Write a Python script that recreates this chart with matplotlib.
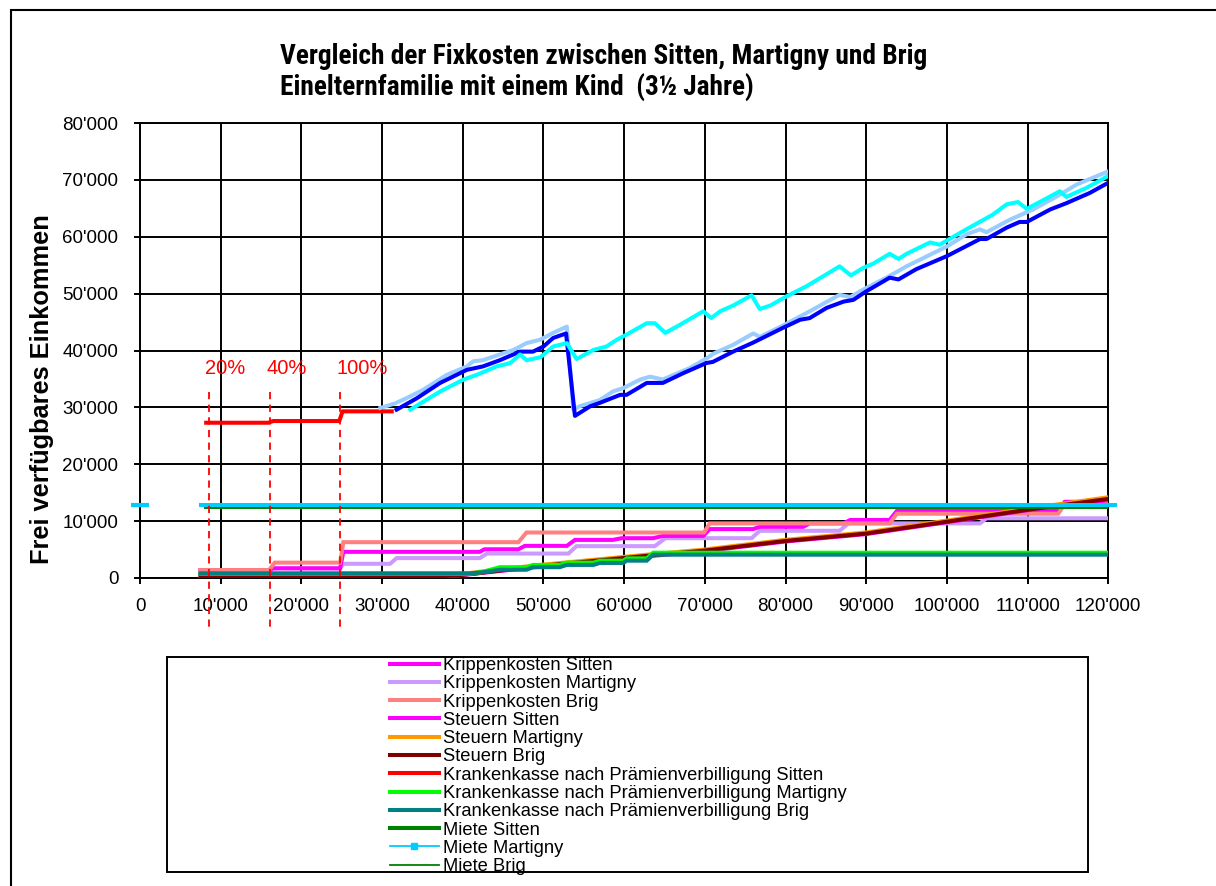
import matplotlib
matplotlib.use("Agg")
import matplotlib.pyplot as plt
from matplotlib import font_manager
from matplotlib.lines import Line2D
from matplotlib.patches import Rectangle
from matplotlib.ticker import FuncFormatter

# ---------------- data (CHF) ----------------
# Frei verfügbares Einkommen (Verläufe ohne Legendeneintrag)
eink_stufen_x = [8200, 15900, 16500, 24700, 25100, 31200]
eink_stufen_y = [27300, 27300, 27600, 27600, 29300, 29300]

eink_martigny_x = [29800, 31600, 33000, 35100, 38000, 40500, 41300, 42500, 44600, 46300, 47900,
                   49600, 51200, 52900, 53700, 54500, 57000, 58600, 59900, 62000, 63200, 64800,
                   66100, 68100, 70200, 71000, 73500, 76000, 76800, 79700, 83000, 86700, 88000,
                   90000, 92500, 95000, 100000, 102400, 104100, 104900, 107800, 110700, 114000,
                   116100, 120000]
eink_martigny_y = [29900, 30700, 31600, 33100, 35700, 37200, 38100, 38300, 39300, 40100, 41300,
                   41900, 43100, 44200, 29600, 30200, 31300, 32800, 33400, 34900, 35400, 34900,
                   35700, 36900, 38600, 39400, 41000, 43000, 42400, 44400, 46900, 49800, 49400,
                   51000, 52800, 54800, 58300, 60400, 61300, 60800, 63000, 64800, 67400,
                   69200, 71500]

eink_sitten_x = [31800, 34300, 37200, 40500, 42500, 44600, 47100, 48700, 50000, 51200, 52800,
                 53900, 55800, 57000, 59500, 60300, 62800, 64800, 67300, 70200, 71000, 73500,
                 76000, 79700, 81800, 83000, 85100, 87200, 88400, 90000, 92900, 94000, 96200,
                 100000, 104100, 104900, 107400, 109000, 109900, 112800, 114800, 117700, 120000]
eink_sitten_y = [29600, 31600, 34300, 36600, 37200, 38300, 39800, 39800, 40700, 42200, 43000,
                 28500, 30200, 30800, 32200, 32200, 34300, 34300, 36000, 37800, 38000, 39800,
                 41400, 44000, 45400, 45700, 47500, 48600, 48900, 50400, 52800, 52500, 54300,
                 56600, 59600, 59600, 61600, 62600, 62600, 64800, 65900, 67700, 69500]

eink_brig_x = [33500, 37200, 40100, 41700, 44200, 45900, 47100, 47900, 49600, 51200, 52900,
               54100, 56200, 57800, 59100, 60300, 62800, 63800, 65100, 66900, 69800, 70800,
               71900, 73500, 75800, 76800, 78100, 80100, 82600, 86700, 88100, 89600, 90900,
               92900, 94000, 95000, 97900, 99100, 102400, 105700, 107400, 108800, 109900,
               114000, 114800, 117300, 120000]
eink_brig_y = [29600, 32800, 34900, 35700, 37200, 37800, 39300, 38300, 38800, 40700, 41300,
               38500, 40100, 40700, 41900, 42800, 44800, 44800, 43100, 44500, 46900, 45700,
               46900, 47900, 49700, 47300, 47900, 49500, 51300, 54800, 53200, 54500, 55300,
               57000, 56100, 57000, 59000, 58600, 61300, 63900, 65700, 66100, 64900,
               68000, 67000, 68600, 70700]

# Krippenkosten
krippe_sitten_x = [7500, 16000, 16500, 24800, 25200, 42100, 42700, 46900, 47700, 52900, 53900,
                   58600, 59700, 63600, 64800, 69800, 70600, 76000, 76800, 82200, 83000, 87200,
                   88000, 92900, 93800, 113800, 114600, 120000]
krippe_sitten_y = [1400, 1400, 1700, 1700, 4600, 4600, 5050, 5050, 5650, 5650, 6700,
                   6700, 7000, 7000, 7400, 7400, 8600, 8600, 9000, 9000, 9600, 9600,
                   10200, 10200, 11800, 11800, 13400, 13400]
krippe_martigny_x = [7500, 16000, 16500, 24800, 25200, 31000, 31800, 42100, 43000, 53100, 54100,
                     63800, 65100, 75800, 76800, 86700, 87800, 104100, 104900, 120000]
krippe_martigny_y = [1400, 1400, 1700, 1700, 2500, 2500, 3500, 3500, 4300, 4300, 5600,
                     5600, 7000, 7000, 8300, 8300, 9600, 9600, 10500, 10500]
krippe_brig_x = [7500, 16000, 16700, 24800, 25200, 46900, 47900, 69900, 70600, 92900, 93800,
                 113800, 114600, 120000]
krippe_brig_y = [1400, 1400, 2700, 2700, 6300, 6300, 8000, 8000, 9600, 9600, 11300,
                 11300, 13000, 13000]

# Steuern
steuer_x = [7500, 35900, 39600, 42100, 49600, 62800, 69900, 79900, 89900, 100000, 110000, 120000]
steuer_sitten_y = [150, 150, 450, 850, 2000, 3800, 4700, 6400, 7700, 9800, 11900, 13700]
steuer_martigny_y = [300, 300, 650, 1100, 2300, 4100, 5000, 6700, 8000, 10100, 12200, 14200]
steuer_brig_y = [200, 200, 500, 900, 2100, 3900, 4800, 6500, 7800, 9900, 12000, 13900]

# Krankenkasse nach Prämienverbilligung
kk_x = [7500, 40900, 42500, 44600, 47900, 48700, 52000, 52900, 56200, 57000, 59900, 60300,
        62800, 63600, 120000]
kk_sitten_y = [700, 700, 950, 1600, 1600, 2050, 2050, 2450, 2450, 2800, 2800, 3200, 3200,
               4250, 4250]
kk_martigny_y = [750, 750, 1100, 1900, 1900, 2300, 2300, 2700, 2700, 3050, 3050, 3450, 3450,
                 4450, 4450]
kk_brig_y = [820, 820, 1000, 1450, 1450, 1900, 1900, 2300, 2300, 2650, 2650, 3050, 3050,
             4100, 4100]

# Miete
miete_sitten_x = [8200, 120000]
miete_sitten_y = [12400, 12400]
miete_martigny_x = [7600, 120800]
miete_martigny_y = [12800, 12800]
miete_brig_x = [8200, 120000]
miete_brig_y = [12350, 12350]

# Subventionsstufen
stufen_x = [8550, 16100, 24800]
stufen_text = ["20%", "40%", "100%"]

x_ticks = list(range(0, 120001, 10000))
y_ticks = list(range(0, 80001, 10000))

# ---------------- fonts ----------------
available = {f.name for f in font_manager.fontManager.ttflist}


def pick(*names):
    for n in names:
        if n in available:
            return n
    return "DejaVu Sans"


base_font = pick("Liberation Sans", "Arial", "DejaVu Sans")
title_font = pick("Roboto Condensed", "Open Sans Condensed", "Liberation Sans Narrow",
                  "Liberation Sans", "DejaVu Sans")
plt.rcParams["font.family"] = [base_font, "DejaVu Sans"]

W, H = 1216, 886
fig = plt.figure(figsize=(W / 100, H / 100), dpi=100)
fig.patch.set_facecolor("white")


def fx(px):
    return px / W


def fy(py):
    return 1 - py / H


AX_L, AX_R, AX_T, AX_B = 140, 1108.3, 123, 578
ax = fig.add_axes([fx(AX_L), fy(AX_B), fx(AX_R) - fx(AX_L), fy(AX_T) - fy(AX_B)])

LW = 2.9
series = [
    (krippe_martigny_x, krippe_martigny_y, "#CC99FF"),
    (krippe_sitten_x, krippe_sitten_y, "#FF00FF"),
    (krippe_brig_x, krippe_brig_y, "#FF8080"),
    (steuer_x, steuer_sitten_y, "#FF00FF"),
    (steuer_x, steuer_martigny_y, "#FF9900"),
    (steuer_x, steuer_brig_y, "#800000"),
    (kk_x, kk_sitten_y, "#FF0000"),
    (kk_x, kk_martigny_y, "#00FF00"),
    (kk_x, kk_brig_y, "#008080"),
    (miete_sitten_x, miete_sitten_y, "#008000"),
]
for xs, ys, c in series:
    ax.plot(xs, ys, color=c, lw=LW, solid_joinstyle="miter", zorder=3)

ax.plot(miete_martigny_x, miete_martigny_y, color="#00CCFF", lw=LW, zorder=3, clip_on=False)
ax.plot([0], [miete_martigny_y[0]], marker="_", ms=13, mew=3, color="#00CCFF",
        clip_on=False, zorder=3)
ax.plot(miete_brig_x, miete_brig_y, color="#008000", lw=1.2, zorder=3)

ax.plot(eink_stufen_x, eink_stufen_y, color="#FF0000", lw=LW, zorder=3)
ax.plot(eink_martigny_x, eink_martigny_y, color="#99CCFF", lw=LW, zorder=3)
ax.plot(eink_sitten_x, eink_sitten_y, color="#0000FF", lw=LW, zorder=3)
ax.plot(eink_brig_x, eink_brig_y, color="#00FFFF", lw=LW, zorder=3)

# subsidy thresholds
for sx, st in zip(stufen_x, stufen_text):
    ax.plot([sx, sx], [32700, -8600], color="#FF0000", lw=1.3, ls=(0, (4, 3)),
            clip_on=False, zorder=4)
    ax.text(sx - 450, 36900, st, color="#FF0000", fontsize=14.5, ha="left", va="center")

# axes styling
ax.set_xlim(0, 120000)
ax.set_ylim(0, 80000)
ax.set_xticks(x_ticks)
ax.set_yticks(y_ticks)
fmt = FuncFormatter(lambda v, p: f"{int(round(v)):,}".replace(",", "'"))
ax.xaxis.set_major_formatter(fmt)
ax.yaxis.set_major_formatter(fmt)
ax.grid(True, color="black", lw=1.4, zorder=1)
ax.set_axisbelow(True)
for s in ax.spines.values():
    s.set_color("black")
    s.set_linewidth(1.4)
ax.tick_params(axis="both", direction="out", length=4.5, width=1.4, color="black",
               labelsize=13.5)
ax.tick_params(axis="y", pad=11)
ax.tick_params(axis="x", pad=10)

ax.set_ylabel("Frei verfügbares Einkommen", fontsize=18.3, fontweight="bold")
ax.yaxis.label.set_va("center")
ax.yaxis.set_label_coords((42 - AX_L) / (AX_R - AX_L), (AX_B - 389) / (AX_B - AX_T))

# title, left aligned block
renderer = fig.canvas.get_renderer()


def fit(t, target):
    w = t.get_window_extent(renderer=renderer).width
    t.set_fontsize(t.get_fontsize() * target / w)


t1 = fig.text(fx(280), fy(57), "Vergleich der Fixkosten zwischen Sitten, Martigny und Brig",
              fontsize=18, fontweight="bold", family=[title_font, "DejaVu Sans"],
              ha="left", va="center")
t2 = fig.text(fx(280), fy(88), "Einelternfamilie mit einem Kind  (3½ Jahre)",
              fontsize=18, fontweight="bold", family=[title_font, "DejaVu Sans"],
              ha="left", va="center")
fit(t1, 648)
t2.set_fontsize(t1.get_fontsize())

# legend
handles = [
    Line2D([], [], color="#FF00FF", lw=LW),
    Line2D([], [], color="#CC99FF", lw=LW),
    Line2D([], [], color="#FF8080", lw=LW),
    Line2D([], [], color="#FF00FF", lw=LW),
    Line2D([], [], color="#FF9900", lw=LW),
    Line2D([], [], color="#800000", lw=LW),
    Line2D([], [], color="#FF0000", lw=LW),
    Line2D([], [], color="#00FF00", lw=LW),
    Line2D([], [], color="#008080", lw=LW),
    Line2D([], [], color="#008000", lw=LW),
    Line2D([], [], color="#00CCFF", lw=1.3, marker="s", ms=4, markevery=[1]),
    Line2D([], [], color="#008000", lw=1.3),
]
labels = [
    "Krippenkosten Sitten", "Krippenkosten Martigny", "Krippenkosten Brig",
    "Steuern Sitten", "Steuern Martigny", "Steuern Brig",
    "Krankenkasse nach Prämienverbilligung Sitten",
    "Krankenkasse nach Prämienverbilligung Martigny",
    "Krankenkasse nach Prämienverbilligung Brig",
    "Miete Sitten", "Miete Martigny", "Miete Brig",
]
leg = fig.legend(handles, labels, loc="upper left", bbox_to_anchor=(fx(390), fy(657)),
                 frameon=False, borderpad=0, borderaxespad=0, handlelength=2.65,
                 handletextpad=0.22, labelspacing=0.07, fontsize=13.2)
fig.add_artist(Rectangle((fx(167), fy(872)), fx(1088) - fx(167), fy(657) - fy(872),
                         transform=fig.transFigure, fill=False, ec="black", lw=1.4))

# outer chart border
fig.add_artist(Rectangle((fx(11), -0.1), 1.2, fy(10) + 0.1, transform=fig.transFigure,
                         fill=False, ec="black", lw=1.5, clip_on=False))

fig.savefig("out.png", dpi=100, facecolor="white")
